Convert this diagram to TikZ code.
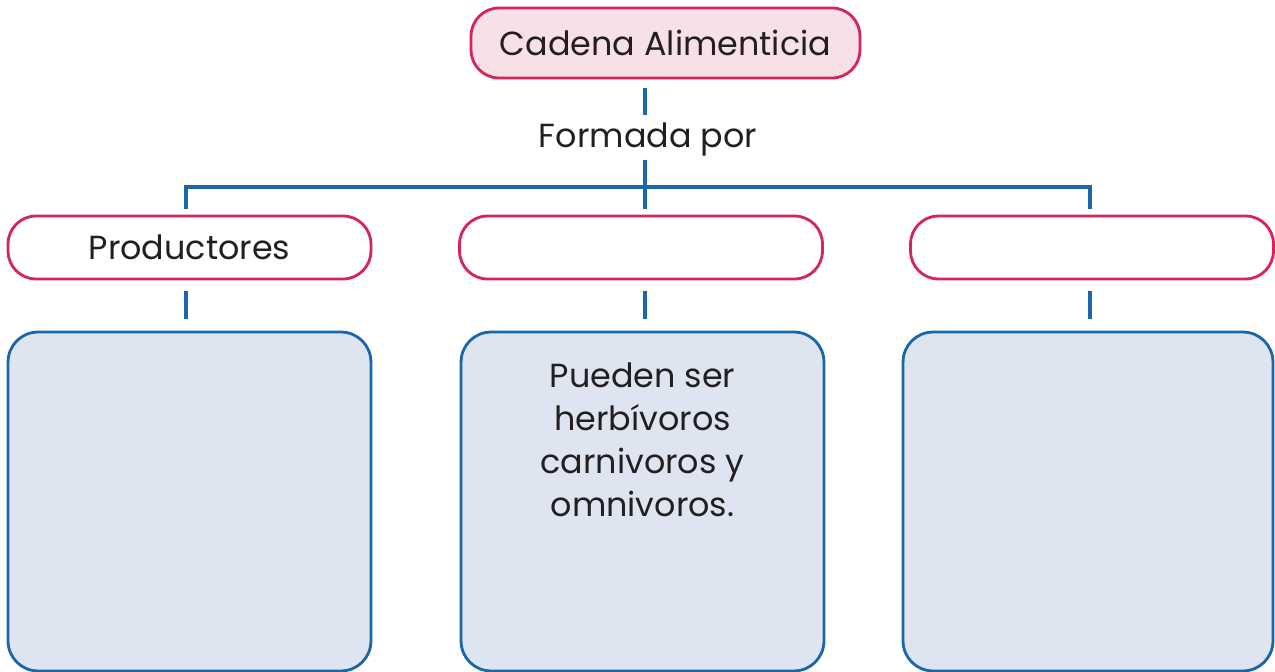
\documentclass[tikz,border=0pt]{standalone}
\usepackage{fontspec}
\setmainfont{Poppins}
\usetikzlibrary{positioning}
\definecolor{rosa}{HTML}{D6245C}
\definecolor{rosaclaro}{HTML}{F7E1E6}
\definecolor{azul}{HTML}{1A66A8}
\definecolor{azulclaro}{HTML}{DFE5F0}
\definecolor{tinta}{HTML}{231F20}

\begin{document}
\begin{tikzpicture}[x=0.02cm, y=-0.02cm,
        letra/.style={text=tinta, font=\fontsize{19}{24.4}\selectfont},
        titulo/.style={letra, draw=rosa, fill=rosaclaro, line width=1.6pt, rounded corners=0.56cm, minimum width=7.78cm, minimum height=1.4cm},
        grupo/.style={letra, draw=rosa, fill=white, line width=1.6pt, rounded corners=0.56cm, minimum width=7.26cm, minimum height=1.26cm},
        caja/.style={draw=azul, fill=azulclaro, line width=1.6pt, rounded corners=0.6cm, minimum width=7.26cm, minimum height=6.78cm},
        enlace/.style={draw=azul, line width=1.8pt}]
    \useasboundingbox (0,0) rectangle (1275,672);

    % titulo
    \node[titulo] (cadena) at (665.5,43) {Cadena Alimenticia};
    \node[letra] (formada) at (648,139) {Formada por};
    \coordinate (hub) at (645,187);

    % grupos
    \node[grupo] (prod) at (189.5,247.5) {Productores};
    \node[grupo] (cons) at (641,247.5) {};
    \node[grupo] (desc) at (1092,247.5) {};

    % cajas
    \node[caja] (baja1) at (189.5,501.5) {};
    \node[caja] (baja2) at (642.5,501.5) {};
    \node[caja, minimum width=7.4cm] (baja3) at (1088,501.5) {};
    \node[letra, align=center, below=0.52cm of baja2.north] (pueden) {Pueden ser\\herbívoros\\carnivoros y\\omnivoros.};

    % lineas
    \draw[enlace, shorten <=0.18cm, shorten >=0.02cm] (hub |- cadena.south) -- (hub |- formada.north);
    \draw[enlace, shorten <=-0.04cm, shorten >=0.12cm] (hub |- formada.south) -- (hub |- cons.north);
    \draw[enlace, shorten <=0.12cm, shorten >=0.12cm] ([xshift=-0.07cm]prod.north) -- ([xshift=-0.07cm]prod.north |- hub) -- ([xshift=-0.04cm]desc.north |- hub) -- ([xshift=-0.04cm]desc.north);
    \foreach \a/\b/\s in {prod/baja1/-0.07cm, desc/baja3/-0.04cm}
        \draw[enlace, shorten <=0.22cm, shorten >=0.24cm] ([xshift=\s]\a.south) -- ([xshift=\s]\a.south |- \b.north);
    \draw[enlace, shorten <=0.22cm, shorten >=0.24cm] (hub |- cons.south) -- (hub |- baja2.north);
\end{tikzpicture}
\end{document}
